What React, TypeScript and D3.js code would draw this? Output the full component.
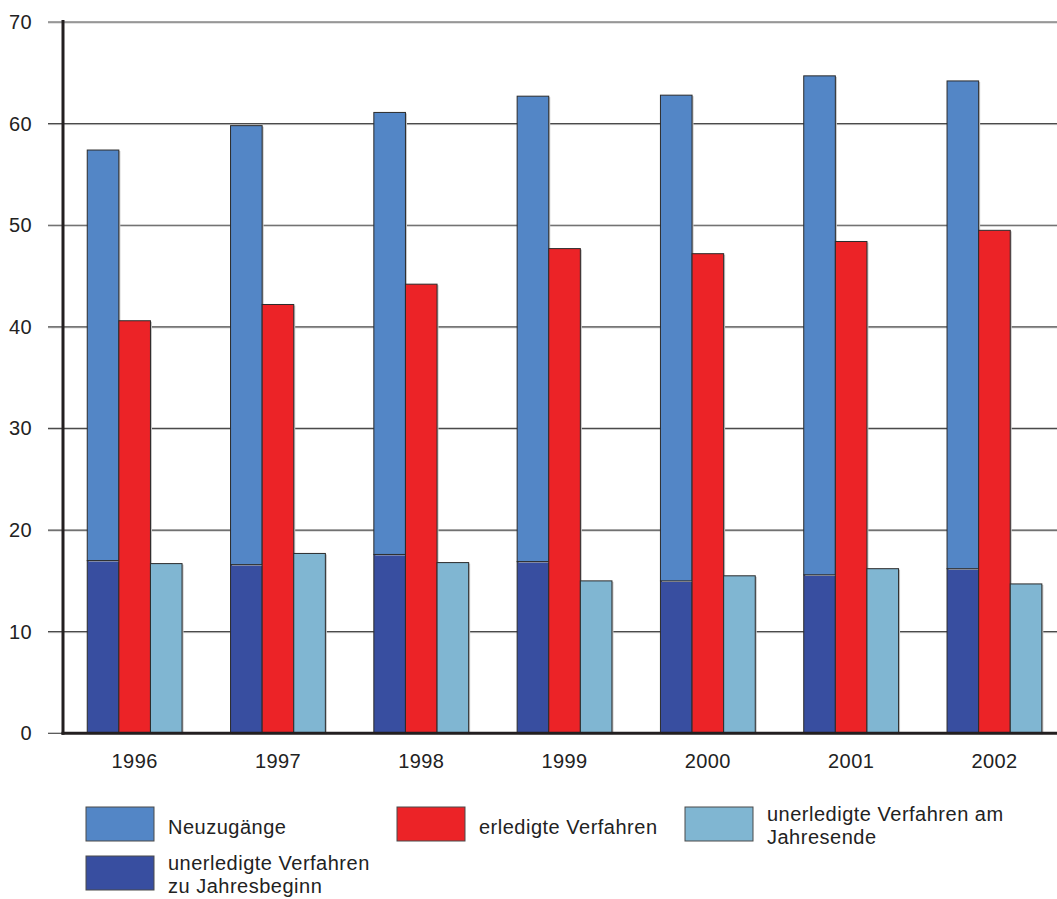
import * as d3 from 'd3'

const YEARS = ['1996', '1997', '1998', '1999', '2000', '2001', '2002']
// unerledigte Verfahren zu Jahresbeginn (bottom of stack)
const BEGINN = [17.0, 16.6, 17.6, 16.9, 15.0, 15.6, 16.2]
// Neuzugänge (stacked on top)
const NEU = [40.4, 43.2, 43.5, 45.8, 47.8, 49.1, 48.0]
const ERLEDIGT = [40.6, 42.2, 44.2, 47.7, 47.2, 48.4, 49.5]
const ENDE = [16.7, 17.7, 16.8, 15.0, 15.5, 16.2, 14.7]
const Y_TICKS = [0, 10, 20, 30, 40, 50, 60, 70]

const C_NEU = '#5386c6'
const C_BEGINN = '#384ea0'
const C_ERL = '#ec2327'
const C_ENDE = '#80b6d2'
const FONT = 'Liberation Sans, Arial, sans-serif'

const W = 1057
const H = 899
const AXIS_X = 63
const STEP = 143.3

export default function App() {
  const x = d3.scaleBand<string>().domain(YEARS).range([AXIS_X, AXIS_X + STEP * YEARS.length]).padding(0)
  const x1 = d3.scaleBand<string>().domain(['stack', 'erl', 'ende']).range([0, x.bandwidth()])
    .paddingInner(0).paddingOuter(0.767)
  const y = d3.scaleLinear([0, 70], [733.3, 22])
  const bw = x1.bandwidth()

  const bar = (key: string, x0: number, v0: number, v1: number, fill: string) => (
    <g key={key}>
      <rect x={x0 + 1.5} y={y(v1) + 1} width={bw} height={y(v0) - y(v1)} fill="#c4c4c4" />
      <rect x={x0} y={y(v1)} width={bw} height={y(v0) - y(v1)} fill={fill} stroke="#2b2b2b" strokeWidth={1} />
    </g>
  )

  const legend = [
    { x: 86, y: 807, color: C_NEU, lines: ['Neuzugänge'] },
    { x: 397, y: 807, color: C_ERL, lines: ['erledigte Verfahren'] },
    { x: 685, y: 807, color: C_ENDE, lines: ['unerledigte Verfahren am', 'Jahresende'] },
    { x: 86, y: 856, color: C_BEGINN, lines: ['unerledigte Verfahren', 'zu Jahresbeginn'] },
  ]

  return (
    <svg width={W} height={H} style={{ position: 'absolute', left: 0, top: 0, background: '#fff' }}
      fontFamily={FONT}>
      {/* grid */}
      {Y_TICKS.filter(t => t > 0).map(t => (
        <g key={t}>
          <line x1={48} x2={W} y1={y(t) + 1} y2={y(t) + 1} stroke="#c8c8c8" strokeWidth={1} />
          <line x1={48} x2={W} y1={y(t)} y2={y(t)} stroke="#4a4a4a" strokeWidth={1.2} />
        </g>
      ))}
      <line x1={48} x2={AXIS_X} y1={y(0)} y2={y(0)} stroke="#4a4a4a" strokeWidth={1.2} />
      {Y_TICKS.map(t => (
        <text key={t} x={32} y={y(t) + 7} textAnchor="end" fontSize={20} fill="#222"
          letterSpacing={0.4}>{t}</text>
      ))}

      {/* bars */}
      {YEARS.map((yr, i) => {
        const gx = x(yr)!
        return (
          <g key={yr}>
            {bar('b', gx + x1('stack')!, 0, BEGINN[i], C_BEGINN)}
            {bar('n', gx + x1('stack')!, BEGINN[i], BEGINN[i] + NEU[i], C_NEU)}
            {bar('e', gx + x1('erl')!, 0, ERLEDIGT[i], C_ERL)}
            {bar('u', gx + x1('ende')!, 0, ENDE[i], C_ENDE)}
            <text x={gx + x.bandwidth() / 2} y={768} textAnchor="middle" fontSize={20} fill="#222"
              letterSpacing={0.4}>{yr}</text>
          </g>
        )
      })}

      {/* axes */}
      <line x1={AXIS_X} x2={AXIS_X} y1={y(70) - 2} y2={y(0) + 1.5} stroke="#231f20" strokeWidth={3} />
      <line x1={AXIS_X - 1.5} x2={W} y1={y(0)} y2={y(0)} stroke="#231f20" strokeWidth={3} />

      {/* legend */}
      {legend.map(l => (
        <g key={l.lines[0]}>
          <rect x={l.x} y={l.y} width={68} height={34} fill={l.color} stroke="#4a4a4a" strokeWidth={1} />
          {l.lines.map((s, k) => (
            <text key={k} x={l.x + 82} y={l.lines.length === 1 ? l.y + 27 : l.y + 14 + k * 23}
              fontSize={20} fill="#222" letterSpacing={0.5}>{s}</text>
          ))}
        </g>
      ))}
    </svg>
  )
}
